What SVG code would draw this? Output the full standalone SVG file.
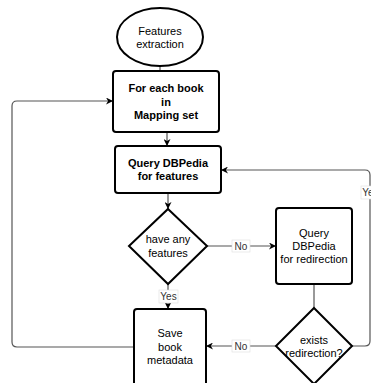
<svg xmlns="http://www.w3.org/2000/svg" width="371" height="383" viewBox="0 0 371 383">
<defs>
<marker id="arr" viewBox="0 0 10 10" refX="10" refY="5" markerWidth="7" markerHeight="7" orient="auto" markerUnits="userSpaceOnUse">
<path d="M0,0 L10,5 L0,10 L3,5 Z" fill="#000"/>
</marker>
<style>
.n{fill:#fff;stroke:#000;stroke-width:2}
.t{font-family:"Liberation Sans",Arial,sans-serif;font-size:11px;text-anchor:middle;fill:#000}
.b{font-weight:bold}
.c{fill:none;stroke:#555;stroke-width:1.2}
.lb{fill:#fff;stroke:#ddd;stroke-width:0.6}
.lt{font-family:"Liberation Sans",Arial,sans-serif;font-size:10px;text-anchor:middle;fill:#333}
</style>
</defs>
<rect width="371" height="383" fill="#fff"/>
<g id="connectors">
<path class="c" d="M160,66 V71"/>
<path class="c" d="M167,132 V146" marker-end="url(#arr)"/>
<path class="c" d="M168,193 V209" marker-end="url(#arr)"/>
<path class="c" d="M207,246 H276" marker-end="url(#arr)"/>
<path class="c" d="M168,284 V309" marker-end="url(#arr)"/>
<path class="c" d="M314,284 V308"/>
<path class="c" d="M276,346 H206" marker-end="url(#arr)"/>
<path class="c" d="M352,346 H365 Q370,346 370,341 V175 Q370,170 365,170 H221" marker-end="url(#arr)"/>
<path class="c" d="M134,347 H17 Q12,347 12,342 V106 Q12,101 17,101 H113" marker-end="url(#arr)"/>
<rect class="lb" x="232" y="240" width="18" height="12"/>
<text class="lt" x="241" y="250">No</text>
<rect class="lb" x="232" y="340" width="18" height="12"/>
<text class="lt" x="241" y="350">No</text>
<rect class="lb" x="159" y="290" width="19" height="13"/>
<text class="lt" x="168.5" y="300">Yes</text>
<rect class="lb" x="361" y="186" width="19" height="13"/>
<text class="lt" x="370.5" y="196">Yes</text>
</g>
<g id="start">
<ellipse class="n" cx="160" cy="37" rx="43" ry="29"/>
<text class="t" x="160" y="35">Features</text>
<text class="t" x="160" y="48">extraction</text>
</g>
<g id="foreach">
<rect class="n" x="113" y="71" width="106" height="61" rx="3"/>
<text class="t b" x="166" y="92">For each book</text>
<text class="t b" x="166" y="106">in</text>
<text class="t b" x="166" y="119">Mapping set</text>
</g>
<g id="query">
<rect class="n" x="115" y="146" width="106" height="47" rx="3"/>
<text class="t b" x="168" y="167">Query DBPedia</text>
<text class="t b" x="168" y="180">for features</text>
</g>
<g id="have">
<polygon class="n" points="168,209 207,246 168,284 129,246"/>
<text class="t" x="168" y="243">have any</text>
<text class="t" x="168" y="257">features</text>
</g>
<g id="redirect">
<rect class="n" x="276" y="208" width="76" height="76" rx="3"/>
<text class="t" x="314" y="237">Query</text>
<text class="t" x="314" y="250">DBPedia</text>
<text class="t" x="314" y="263">for redirection</text>
</g>
<g id="exists">
<polygon class="n" points="314,308 352,346 314,384 276,346"/>
<text class="t" x="314" y="344">exists</text>
<text class="t" x="314" y="357">redirection?</text>
</g>
<g id="save">
<rect class="n" x="134" y="309" width="72" height="80" rx="3"/>
<text class="t" x="170" y="337">Save</text>
<text class="t" x="170" y="351">book</text>
<text class="t" x="170" y="364">metadata</text>
</g>
</svg>
